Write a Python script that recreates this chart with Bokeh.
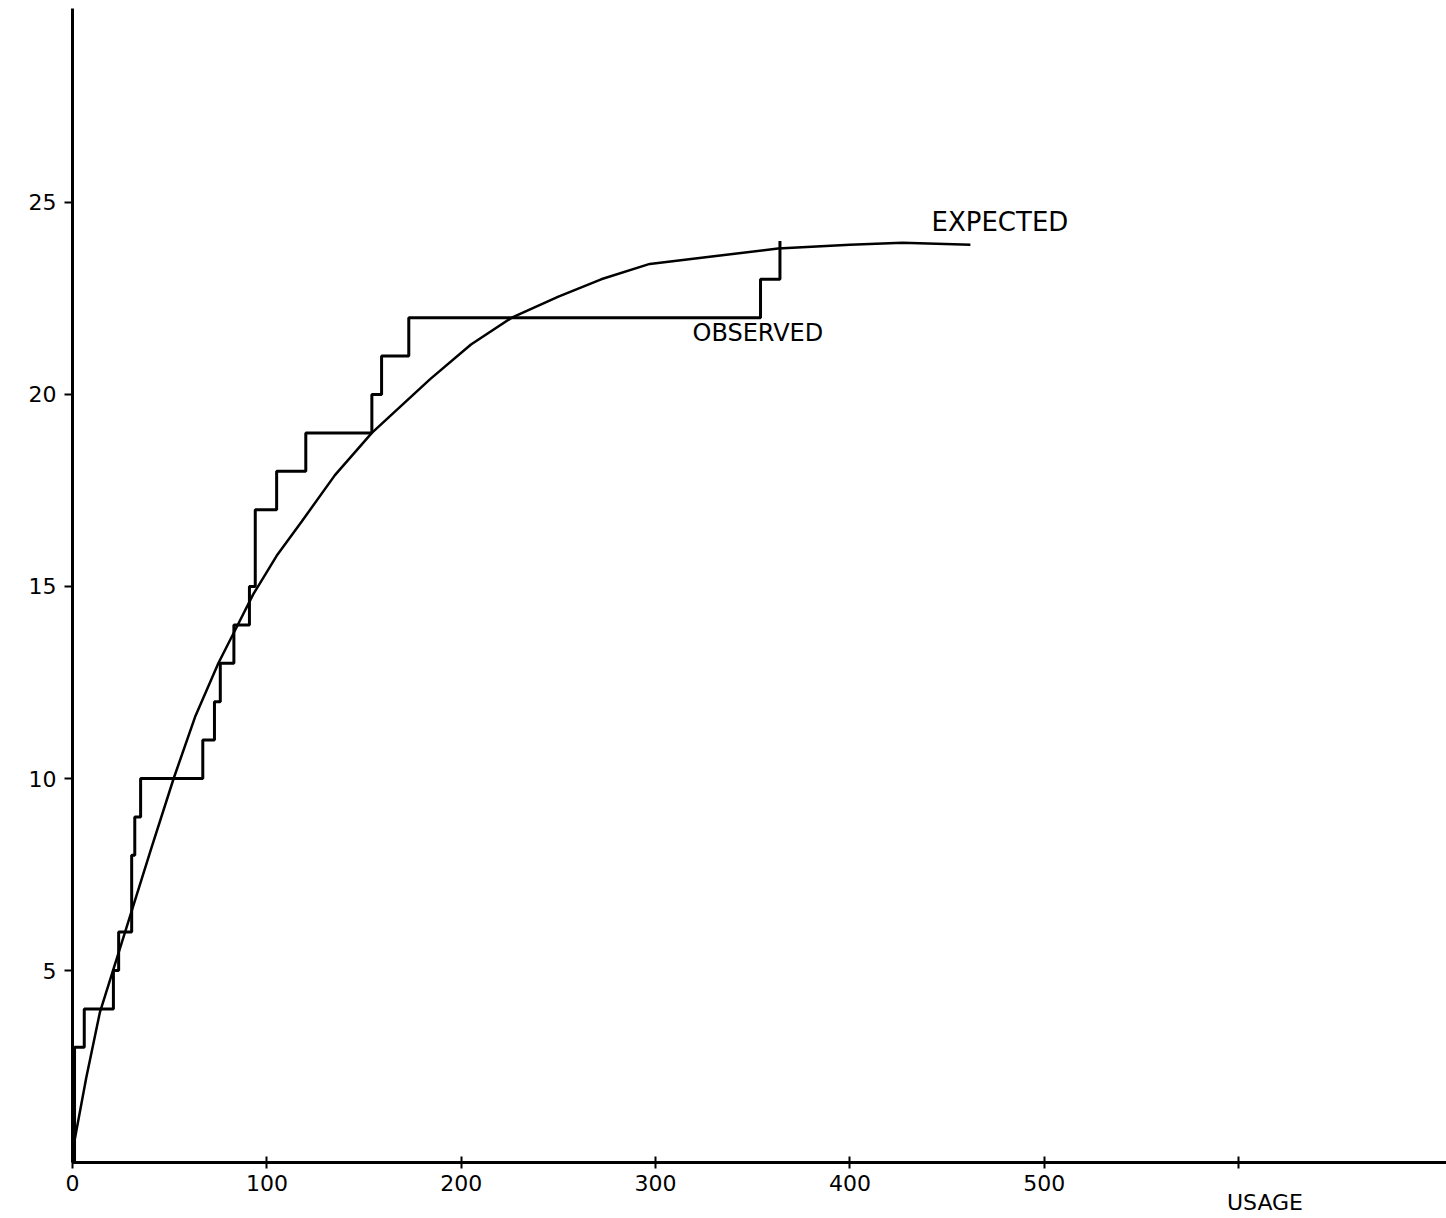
from bokeh.plotting import figure
from bokeh.models import Range1d, FixedTicker, Label
from bokeh.embed import file_html
from bokeh.resources import INLINE

# Observed cumulative count (step function): jump usages and levels
obs_usage = [0, 1, 6, 21, 23.7, 30.4, 32, 35, 67, 73, 76, 83, 91, 94, 105, 120, 154, 159, 173, 354, 364]
obs_count = [0, 3, 4, 5, 6, 8, 9, 10, 11, 12, 13, 14, 15, 17, 18, 19, 20, 21, 22, 23, 24]

# Expected curve
exp_usage = [0, 7, 14, 27, 40, 52, 63, 75, 84, 93, 105, 118, 135, 154, 184, 205, 226, 250, 272, 297, 330, 363, 400, 427, 462]
exp_value = [0.3, 2.2, 3.9, 6.0, 8.1, 10.0, 11.6, 13.0, 13.9, 14.8, 15.8, 16.7, 17.9, 19.0, 20.4, 21.3, 22.0, 22.55, 23.0, 23.4, 23.6, 23.8, 23.9, 23.95, 23.9]

x_ticks = [0, 100, 200, 300, 400, 500, 600]
x_tick_labels = {0: "0", 100: "100", 200: "200", 300: "300", 400: "400", 500: "500", 600: ""}
y_ticks = [5, 10, 15, 20, 25]

FONT = "DejaVu Sans"

p = figure(width=1446, height=1218, output_backend="svg", toolbar_location=None,
           x_range=Range1d(-37.1, 707), y_range=Range1d(-1.458, 30.26),
           min_border_left=0, min_border_right=0, min_border_top=0, min_border_bottom=0)
p.grid.visible = False
p.outline_line_color = None
p.background_fill_color = "white"
p.border_fill_color = "white"

for ax in (p.xaxis[0], p.yaxis[0]):
    ax.axis_line_width = 3
    ax.axis_line_color = "black"
    ax.major_tick_line_width = 2
    ax.major_tick_line_color = "black"
    ax.minor_tick_line_color = None
    ax.major_label_text_font = FONT
    ax.major_label_text_font_size = "22px"
    ax.major_label_text_color = "black"

p.xaxis.fixed_location = 0
p.xaxis.bounds = (0, 707)
p.xaxis.ticker = FixedTicker(ticks=x_ticks)
p.xaxis.major_label_overrides = x_tick_labels
p.xaxis.major_tick_in = 6
p.xaxis.major_tick_out = 6
p.xaxis.major_label_standoff = 6

p.yaxis.fixed_location = 0
p.yaxis.bounds = (0, 30.05)
p.yaxis.ticker = FixedTicker(ticks=y_ticks)
p.yaxis.major_tick_in = 0
p.yaxis.major_tick_out = 8
p.yaxis.major_label_standoff = 8

p.step(obs_usage, obs_count, mode="after", line_color="black", line_width=3)
p.line(exp_usage, exp_value, line_color="black", line_width=2.5)

p.add_layout(Label(x=442, y=24.5, text="EXPECTED", text_font=FONT, text_font_size="26px",
                   text_baseline="middle", text_align="left", text_color="black"))
p.add_layout(Label(x=319, y=21.6, text="OBSERVED", text_font=FONT, text_font_size="24px",
                   text_baseline="middle", text_align="left", text_color="black"))
p.add_layout(Label(x=594, y=-1.05, text="USAGE", text_font=FONT, text_font_size="22px",
                   text_baseline="middle", text_align="left", text_color="black"))

open("out.html", "w").write(file_html(p, INLINE))
